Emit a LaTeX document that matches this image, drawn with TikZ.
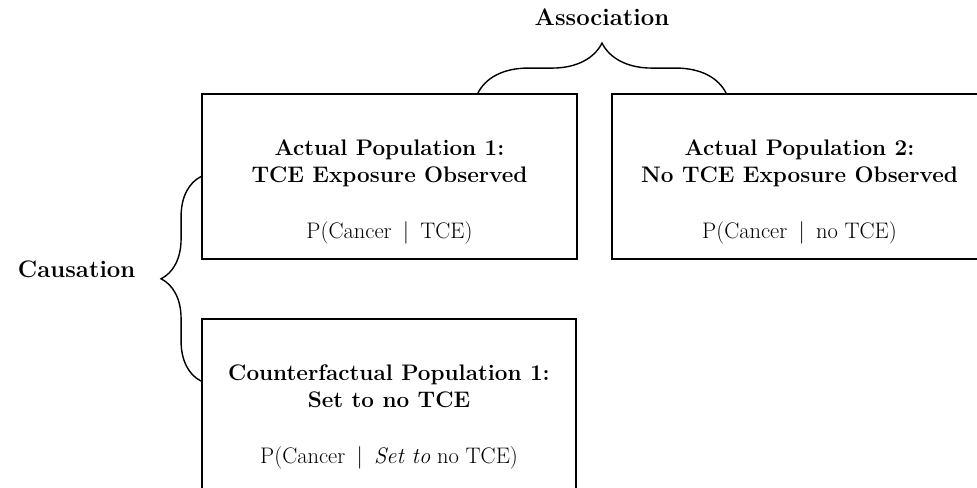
\documentclass[tikz,border=0pt]{standalone}
\usepackage{tikz}
\usetikzlibrary{positioning}
\usetikzlibrary{decorations.pathreplacing}
\tikzset{popbox/.style = {draw, line width = 1.3pt, inner sep = 0,
                          minimum width = 9.375cm, minimum height = 4.125cm}}
\tikzset{poptext/.style = {align = center, inner sep = 0,
                           font = \fontsize{16}{19.2}\selectfont}}
\tikzset{sidetext/.style = {inner sep = 0, font = \fontsize{17}{20}\selectfont\bfseries}}
\tikzset{curly/.style = {decorate, decoration = {brace, amplitude = #1},
                         line width = 1pt}}
\newcommand{\givenbar}{\enspace|\enspace}

\begin{document}
\begin{tikzpicture}
    \useasboundingbox (0, 0) rectangle (24.425, 12.175);

    % the three populations
    \node [popbox] (act1) at (9.7375, 7.7625) {};
    \node [popbox] (act2) at (19.9875, 7.7625) {};
    \node [popbox, minimum width = 9.35cm, minimum height = 4.325cm] (cf1) at (9.725, 2.0375) {};

    \node [poptext, below = 1.15cm of act1.north] (act1txt)
      {\textbf{Actual Population 1:}\\ \textbf{TCE Exposure Observed}\\[20.6pt] P(Cancer\givenbar TCE)};
    \node [poptext, below = 1.15cm of act2.north] (act2txt)
      {\textbf{Actual Population 2:}\\ \textbf{No TCE Exposure Observed}\\[20.6pt] P(Cancer\givenbar no TCE)};
    \node [poptext, below = 1.15cm of cf1.north] (cf1txt)
      {\textbf{Counterfactual Population 1:}\\ \textbf{Set to no TCE}\\[20.6pt] P(Cancer\givenbar \textit{Set to} no TCE)};

    % braces
    \coordinate (assocL) at ([xshift = -2.5cm]act1.north east);
    \coordinate (assocR) at ([xshift = 2.875cm]act2.north west);
    \draw [curly = 1.25cm] (assocL) -- (assocR)
      node [midway, above = 1.675cm, sidetext] (assoc) {Association};

    \coordinate (causeB) at ([yshift = -1.575cm]cf1.north west);
    \draw [curly = 1cm] (causeB) -- (act1.west)
      node [midway, left = 1.625cm, yshift = 0.225cm, sidetext] (cause) {Causation};
  \end{tikzpicture}
\end{document}
